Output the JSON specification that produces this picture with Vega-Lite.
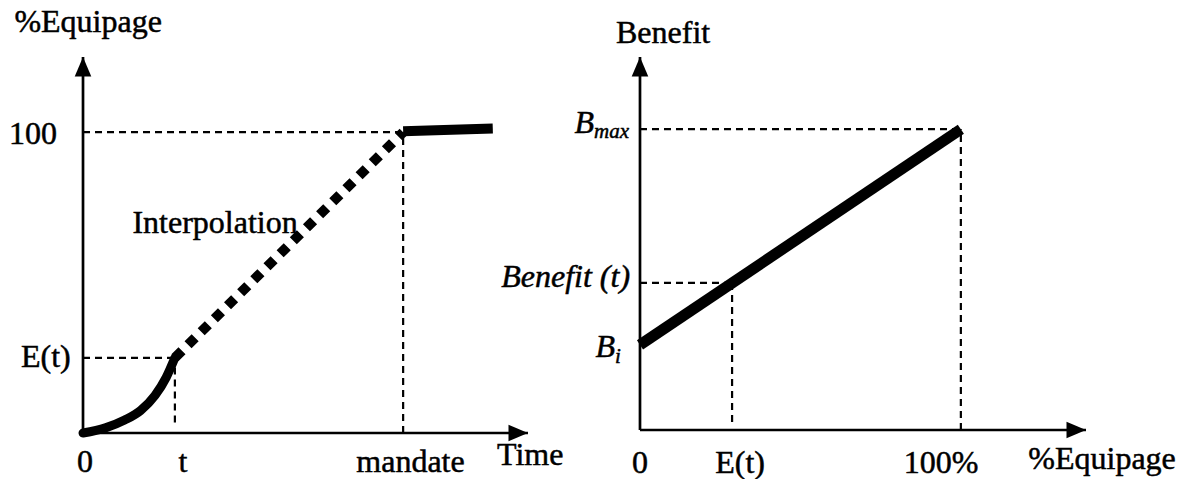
{
  "$schema": "https://vega.github.io/schema/vega-lite/v6.json",
  "padding": 0,
  "autosize": {"type": "pad"},
  "spacing": 0,
  "bounds": "flush",
  "background": "white",
  "config": {
    "view": {"stroke": null},
    "text": {"font": "Liberation Serif", "fontSize": 32, "color": "black", "baseline": "alphabetic", "align": "center", "stroke": "black", "strokeWidth": 0.5},
    "line": {"color": "black"},
    "rule": {"color": "black"}
  },
  "datasets": {
    "leftAxes": [{"x": 0, "y": 0, "x2": 139, "y2": 0}, {"x": 0, "y": 0, "x2": 0, "y2": 125}],
    "leftArrows": [{"x": 139, "y": 0, "dir": "right"}, {"x": 0, "y": 125, "dir": "up"}],
    "leftGuides": [
      {"x": 0, "y": 100, "x2": 100, "y2": 100},
      {"x": 100, "y": 0, "x2": 100, "y2": 100},
      {"x": 0, "y": 25, "x2": 28.7, "y2": 25},
      {"x": 28.7, "y": 3.5, "x2": 28.7, "y2": 25}
    ],
    "leftCurve": [
      {"x": 0, "y": 0}, {"x": 7, "y": 1.7}, {"x": 13, "y": 4.3}, {"x": 18, "y": 7.5},
      {"x": 22.5, "y": 12.5}, {"x": 26, "y": 18.5}, {"x": 28.7, "y": 25}
    ],
    "leftInterp": [{"x": 28.7, "y": 25}, {"x": 100, "y": 100}],
    "leftPlateau": [{"x": 100, "y": 100.3}, {"x": 128, "y": 101.2}],
    "leftLabels": [
      {"x": 1.6, "y": 133.3, "label": "%Equipage"},
      {"x": -15.6, "y": 96.1, "label": "100"},
      {"x": -11.6, "y": 21.9, "label": "E(t)"},
      {"x": 0.6, "y": -13, "label": "0"},
      {"x": 31.2, "y": -13, "label": "t"},
      {"x": 102.3, "y": -13, "label": "mandate"},
      {"x": 139.7, "y": -10.6, "label": "Time"},
      {"x": 41.25, "y": 66.5, "label": "Interpolation"}
    ],
    "rightAxes": [{"x": 0, "y": 0, "x2": 139, "y2": 0}, {"x": 0, "y": 0, "x2": 0, "y2": 124}],
    "rightArrows": [{"x": 139, "y": 0, "dir": "right"}, {"x": 0, "y": 124, "dir": "up"}],
    "rightGuides": [
      {"x": 0, "y": 100, "x2": 100, "y2": 100},
      {"x": 100, "y": 0, "x2": 100, "y2": 100},
      {"x": 0, "y": 48.9, "x2": 28.7, "y2": 48.9},
      {"x": 28.7, "y": 2.7, "x2": 28.7, "y2": 48.9}
    ],
    "rightLine": [{"x": 0, "y": 28.3}, {"x": 100, "y": 100}],
    "rightLabels": [
      {"x": 7.2, "y": 128.7, "label": "Benefit"},
      {"x": 0, "y": -14.3, "label": "0"},
      {"x": 31.2, "y": -14.3, "label": "E(t)"},
      {"x": 93.8, "y": -14.3, "label": "100%"},
      {"x": 144, "y": -13, "label": "%Equipage"}
    ],
    "rightItalic": [
      {"x": -14.3, "y": 98.7, "label": "B"},
      {"x": -3.1, "y": 47.5, "label": "Benefit (t)"},
      {"x": -7.8, "y": 24.3, "label": "B"}
    ],
    "rightSub": [
      {"x": -14.3, "y": 97.1, "label": "max"},
      {"x": -7.8, "y": 22.3, "label": "i"}
    ]
  },
  "hconcat": [
    {
      "width": 560,
      "height": 479,
      "encoding": {
        "x": {"field": "x", "type": "quantitative", "axis": null, "scale": {"domain": [-25.93, 149.0], "nice": false, "zero": false}},
        "y": {"field": "y", "type": "quantitative", "axis": null, "scale": {"domain": [-15.29, 143.95], "nice": false, "zero": false}}
      },
      "layer": [
        {
          "data": {"name": "leftAxes"},
          "mark": {"type": "rule", "strokeWidth": 2.7},
          "encoding": {"x2": {"field": "x2"}, "y2": {"field": "y2"}}
        },
        {
          "data": {"name": "leftArrows"},
          "mark": {"type": "point", "filled": true, "color": "black", "opacity": 1, "size": 380},
          "encoding": {
            "shape": {"field": "dir", "type": "nominal", "legend": null,
              "scale": {"domain": ["right", "up"], "range": ["M0,0L-2,-0.85L-2,0.85Z", "M0,0L-0.85,2L0.85,2Z"]}}
          }
        },
        {
          "data": {"name": "leftGuides"},
          "mark": {"type": "rule", "strokeWidth": 2.2, "strokeDash": [7, 5]},
          "encoding": {"x2": {"field": "x2"}, "y2": {"field": "y2"}}
        },
        {
          "data": {"name": "leftCurve"},
          "mark": {"type": "line", "strokeWidth": 9, "interpolate": "monotone", "strokeCap": "round"},
          "encoding": {}
        },
        {
          "data": {"name": "leftInterp"},
          "mark": {"type": "line", "strokeWidth": 10, "strokeDash": [10, 8.5], "strokeCap": "butt"},
          "encoding": {}
        },
        {
          "data": {"name": "leftPlateau"},
          "mark": {"type": "line", "strokeWidth": 10, "strokeCap": "butt"},
          "encoding": {}
        },
        {
          "data": {"name": "leftLabels"},
          "mark": {"type": "text"},
          "encoding": {"text": {"field": "label"}}
        }
      ]
    },
    {
      "width": 628,
      "height": 479,
      "encoding": {
        "x": {"field": "x", "type": "quantitative", "axis": null, "scale": {"domain": [-24.93, 170.79], "nice": false, "zero": false}},
        "y": {"field": "y", "type": "quantitative", "axis": null, "scale": {"domain": [-16.29, 142.95], "nice": false, "zero": false}}
      },
      "layer": [
        {
          "data": {"name": "rightAxes"},
          "mark": {"type": "rule", "strokeWidth": 2.7},
          "encoding": {"x2": {"field": "x2"}, "y2": {"field": "y2"}}
        },
        {
          "data": {"name": "rightArrows"},
          "mark": {"type": "point", "filled": true, "color": "black", "opacity": 1, "size": 380},
          "encoding": {
            "shape": {"field": "dir", "type": "nominal", "legend": null,
              "scale": {"domain": ["right", "up"], "range": ["M0,0L-2,-0.85L-2,0.85Z", "M0,0L-0.85,2L0.85,2Z"]}}
          }
        },
        {
          "data": {"name": "rightGuides"},
          "mark": {"type": "rule", "strokeWidth": 2.2, "strokeDash": [7, 5]},
          "encoding": {"x2": {"field": "x2"}, "y2": {"field": "y2"}}
        },
        {
          "data": {"name": "rightLine"},
          "mark": {"type": "line", "strokeWidth": 11, "strokeCap": "butt"},
          "encoding": {}
        },
        {
          "data": {"name": "rightLabels"},
          "mark": {"type": "text"},
          "encoding": {"text": {"field": "label"}}
        },
        {
          "data": {"name": "rightItalic"},
          "mark": {"type": "text", "fontStyle": "italic", "align": "right"},
          "encoding": {"text": {"field": "label"}}
        },
        {
          "data": {"name": "rightSub"},
          "mark": {"type": "text", "fontStyle": "italic", "align": "left", "fontSize": 21},
          "encoding": {"text": {"field": "label"}}
        }
      ]
    }
  ]
}
